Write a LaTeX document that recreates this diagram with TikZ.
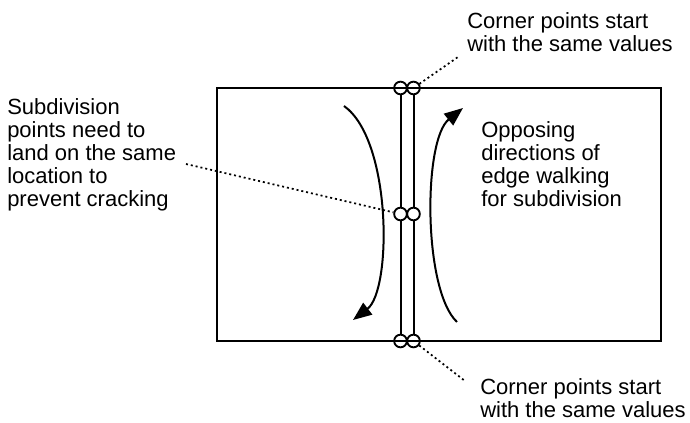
\documentclass[tikz,border=0pt]{standalone}
\usepackage{fontspec}
\setmainfont{Liberation Sans}
\usetikzlibrary{arrows.meta}
\begin{document}
\begin{tikzpicture}[x=0.75pt,y=-0.75pt,
  solid line/.style={line width=1.5pt},
  pt/.style={circle,draw,line width=1.4pt,minimum size=9.5pt,inner sep=0pt},
  lbl/.style={anchor=base west,align=left,inner sep=0pt,font=\fontsize{16.5pt}{17.25pt}\selectfont},
  leader/.style={line width=1.3pt,dash pattern=on 1.5pt off 2.2pt},
  walk/.style={line width=1.5pt,-{Triangle[length=14pt,width=11pt]}}]
\useasboundingbox (0,0) rectangle (690,423);
% surface
\draw[solid line] (217,88) rectangle (661,341);
% shared edge
\node[pt] (c1t) at (400.5,88) {};
\node[pt] (c2t) at (413.5,88) {};
\node[pt] (c1m) at (400.5,214) {};
\node[pt] (c2m) at (413.5,214) {};
\node[pt] (c1b) at (400.5,341) {};
\node[pt] (c2b) at (413.5,341) {};
\draw[solid line] (c1t) -- (c1m) -- (c1b);
\draw[solid line] (c2t) -- (c2m) -- (c2b);
% walking arrows
\coordinate (la) at (344,106);
\coordinate (lb) at (353,320);
\coordinate (ra) at (457,322);
\coordinate (rb) at (463,108);
\draw[walk] (la) .. controls (392,140) and (392,290) .. (lb);
\draw[walk] (ra) .. controls (423,290) and (423,140) .. (rb);
% labels (anchored at the baseline of their last line)
\node[lbl] (ttop) at (467,52) {Corner points start\\with the same values};
\node[lbl] (tbot) at (480,418) {Corner points start\\with the same values};
\node[lbl] (tleft) at (7,207) {Subdivision\\points need to\\land on the same\\location to\\prevent cracking};
\node[lbl] (tright) at (481,207) {Opposing\\directions of\\edge walking\\for subdivision};
% leaders
\coordinate (et) at (458,57);
\coordinate (eb) at (465,381);
\coordinate (el) at (186,164);
\draw[leader] (c2t) -- (et);
\draw[leader] (c2b) -- (eb);
\draw[leader] (el) -- (c1m);
\end{tikzpicture}
\end{document}
